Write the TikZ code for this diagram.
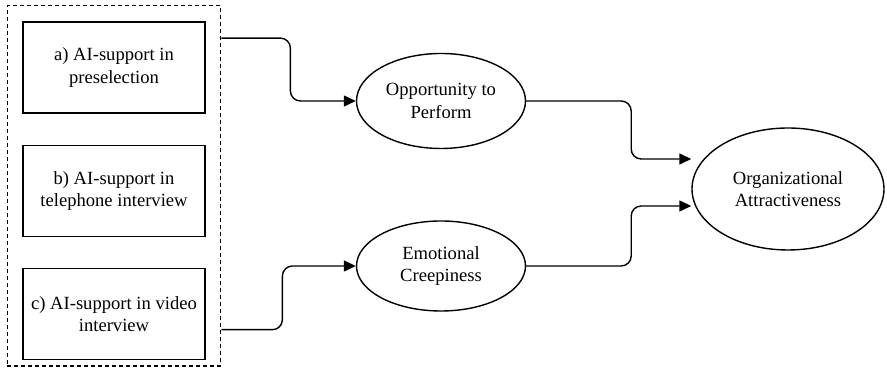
\documentclass[tikz,border=0pt]{standalone}
\usepackage{fontspec}
\setmainfont{Liberation Serif}
\usepackage{tikz}
\usetikzlibrary{positioning,arrows.meta,shapes.geometric,fit}

\begin{document}
\begin{tikzpicture}[
  x=1pt, y=1pt,
  node distance=31pt and 31pt,
  font=\fontsize{18.6}{22.5}\selectfont,
  box/.style={draw, line width=1.4pt, align=center, minimum width=182pt, minimum height=91pt, inner sep=0pt},
  construct/.style={draw, ellipse, line width=1.4pt, align=center, inner sep=0pt},
  group/.style={draw, line width=1.4pt, dash pattern=on 4pt off 3pt, inner xsep=15pt, inner ysep=10.5pt},
  flow/.style={-{Stealth[length=12pt,width=11pt,inset=0pt]}, line width=1.4pt, rounded corners=10pt}
]
\useasboundingbox (0,0) rectangle (887,371);
\node[box] (presel) at (114,303.5) {a) AI-support in\\preselection};
\node[box, below=of presel] (phone) {b) AI-support in\\telephone interview};
\node[box, below=of phone] (video) {c) AI-support in video\\interview};
\node[group, yshift=5pt, fit=(presel) (video)] (ai) {};
\node[construct, minimum width=169pt, minimum height=95pt] (opp) at (441,270) {Opportunity to\\Perform};
\node[construct, minimum width=169pt, minimum height=90pt] (creep) at (441,105) {Emotional\\Creepiness};
\node[construct, minimum width=192pt, minimum height=122pt] (attr) at (788,182) {Organizational\\Attractiveness};

\draw[flow] ([yshift=-33pt]ai.north east) -- ++(69,0) |- (opp.west);
\draw[flow] ([yshift=37pt]ai.south east) -- ++(61,0) |- (creep.west);
\draw[flow] (opp.east) -- ++(105,0) |- ([yshift=30pt]attr.west);
\draw[flow] (creep.east) -- ++(105,0) |- ([yshift=-17pt]attr.west);
\end{tikzpicture}
\end{document}
